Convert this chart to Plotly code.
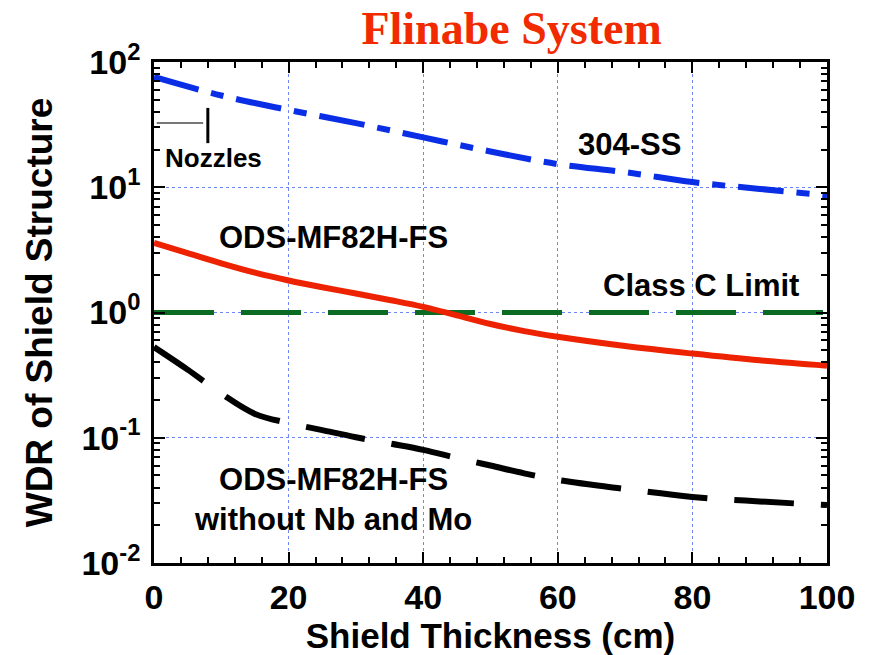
import math
import plotly.graph_objects as go

# Shield thickness (cm) and waste disposal rating curves
x_ss = [0, 10, 20, 30, 40, 50, 60, 70, 80, 90, 100]
wdr_ss304 = [76, 54, 41.4, 32.5, 25, 19.3, 15.3, 13.2, 11.0, 9.7, 8.6]

x_ods = [0, 5, 10, 15, 20, 25, 30, 35, 40, 45, 50, 55, 60, 70, 80, 90, 100]
wdr_ods = [3.59, 2.98, 2.47, 2.08, 1.80, 1.59, 1.42, 1.26, 1.11, 0.95, 0.81,
           0.71, 0.64, 0.54, 0.47, 0.415, 0.376]
wdr_ods_nomo = [0.53, 0.35, 0.225, 0.155, 0.131, 0.115, 0.101, 0.090, 0.080,
                0.069, 0.060, 0.052, 0.046, 0.039, 0.0337, 0.031, 0.029]

x_limit = [0, 100]
class_c_limit = [1.0, 1.0]

# Nozzle marker geometry (data units)
nozzle_h_x = [0.4, 7.3]
nozzle_h_y = 32.6
nozzle_v_x = 8.0
nozzle_v_y = [22.5, 43.0]

y_tickvals = [0.01, 0.1, 1, 10, 100]
y_ticktext = ["10<sup>-2</sup>", "10<sup>-1</sup>", "10<sup>0</sup>",
              "10<sup>1</sup>", "10<sup>2</sup>"]
y_minor = [m * d for d in [0.01, 0.1, 1, 10] for m in range(2, 10)]

SANS = "Liberation Sans, Arial, Helvetica, sans-serif"

fig = go.Figure()

fig.add_trace(go.Scatter(x=x_limit, y=class_c_limit, mode="lines",
                         line=dict(color="#0b6b22", width=5, dash="60px,27px"),
                         showlegend=False))
fig.add_trace(go.Scatter(x=x_ss, y=wdr_ss304, mode="lines", line_shape="spline",
                         line=dict(color="#0a2ee6", width=6,
                                   dash="46px,13px,13px,13px"),
                         showlegend=False))
fig.add_trace(go.Scatter(x=x_ods, y=wdr_ods, mode="lines", line_shape="spline",
                         line=dict(color="#ec2200", width=6),
                         showlegend=False))
fig.add_trace(go.Scatter(x=x_ods, y=wdr_ods_nomo, mode="lines", line_shape="spline",
                         line=dict(color="#000000", width=6, dash="60px,27px"),
                         showlegend=False))

# Nozzles marker lines
fig.add_shape(type="line", xref="x", yref="y",
              x0=nozzle_h_x[0], x1=nozzle_h_x[1], y0=nozzle_h_y, y1=nozzle_h_y,
              line=dict(color="#777777", width=2))
fig.add_shape(type="line", xref="x", yref="y",
              x0=nozzle_v_x, x1=nozzle_v_x, y0=nozzle_v_y[0], y1=nozzle_v_y[1],
              line=dict(color="#000000", width=3))

# Curve labels (annotation y on a log axis is given as log10 of the value)
labels = [
    ("Nozzles", 8.84, 16.97, 26),
    ("304-SS", 70.65, 22.1, 31),
    ("ODS-MF82H-FS", 26.6, 3.97, 31),
    ("Class C Limit", 81.3, 1.628, 31),
    ("ODS-MF82H-FS<br>without Nb and Mo", 26.6, 0.0324, 31),
]
for text, lx, ly, size in labels:
    fig.add_annotation(x=lx, y=math.log10(ly), xref="x", yref="y",
                       text=f"<b>{text}</b>",
                       showarrow=False, xanchor="center", yanchor="middle",
                       font=dict(family=SANS, size=size, color="#000000"))

fig.update_layout(
    width=876, height=655,
    margin=dict(l=154, r=49, t=62, b=92),
    paper_bgcolor="white", plot_bgcolor="white",
    title=dict(text="<b>Flinabe System</b>", x=0.584, xanchor="center",
               y=0.957, yanchor="middle", yref="container",
               font=dict(family="Liberation Serif, Times New Roman, serif",
                         size=46, color="#f22a00")),
)

fig.update_xaxes(
    range=[0, 100], dtick=20, tick0=0, automargin=False,
    showline=True, linecolor="black", linewidth=2.5, mirror="allticks",
    ticks="inside", ticklen=11, tickwidth=2, tickcolor="black",
    minor=dict(dtick=4, ticks="inside", ticklen=6, tickwidth=1.5,
               tickcolor="black", showgrid=False),
    showgrid=True, gridcolor="#6f86f5", gridwidth=1, griddash="dot",
    zeroline=False,
    tickfont=dict(family=SANS, size=34, color="black", weight="bold"),
    ticklabelstandoff=2,
    title=dict(text="<b>Shield Thickness (cm)</b>", standoff=10,
               font=dict(family=SANS, size=35, color="black")),
)

fig.update_yaxes(
    type="log", range=[-2, 2], automargin=False,
    tickvals=y_tickvals, ticktext=y_ticktext,
    showline=True, linecolor="black", linewidth=2.5, mirror="allticks",
    ticks="inside", ticklen=11, tickwidth=2, tickcolor="black",
    minor=dict(tickvals=y_minor, ticks="inside", ticklen=6, tickwidth=1.5,
               tickcolor="black", showgrid=False),
    showgrid=True, gridcolor="#6f86f5", gridwidth=1, griddash="dot",
    zeroline=False,
    tickfont=dict(family=SANS, size=34, color="black", weight="bold"),
    ticklabelstandoff=4,
    title=dict(text="<b>WDR of Shield Structure</b>", standoff=18,
               font=dict(family=SANS, size=37, color="black")),
)

fig.write_html("out.html")
